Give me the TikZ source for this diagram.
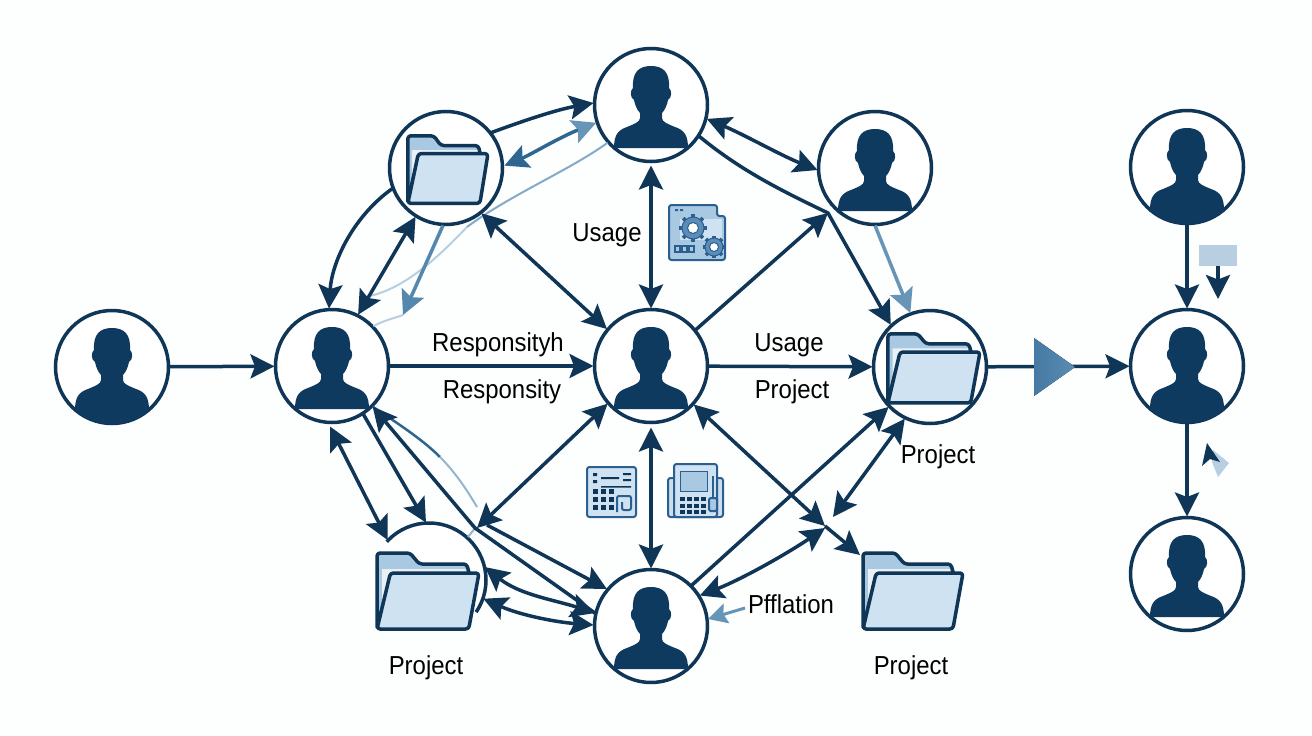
\documentclass[tikz,border=0pt]{standalone}
\usepackage{fontspec}
\setmainfont{Liberation Sans}
\usetikzlibrary{arrows.meta,calc}
\definecolor{ink}{HTML}{0F3557}
\definecolor{sil}{HTML}{0F3A60}
\definecolor{midb}{HTML}{2F6690}
\definecolor{softb}{HTML}{6695B8}
\definecolor{paleb}{HTML}{B8CFE1}
\definecolor{fback}{HTML}{A9C8E2}
\definecolor{ffront}{HTML}{CFE2F2}
\definecolor{iconl}{HTML}{2A5F8F}
\definecolor{gearb}{HTML}{5B8DB8}
\definecolor{triL}{HTML}{467AA3}
\definecolor{triR}{HTML}{5A8CB3}
\tikzset{
  x=1pt,y=-1pt,
  disc/.style={circle,draw=ink,fill=white,line width=3.5pt,minimum size=113pt,inner sep=0pt,outer sep=1pt},
  link/.style={draw=ink,line width=3.5pt},
  one/.style={link,-{Stealth[length=24pt,width=24pt,inset=4.5pt]}},
  both/.style={link,{Stealth[length=24pt,width=24pt,inset=4.5pt]}-{Stealth[length=24pt,width=24pt,inset=4.5pt]}},
  blueboth/.style={draw=midb,line width=3.5pt,{Stealth[length=24pt,width=24pt,inset=4.5pt,color=midb]}-{Stealth[length=24pt,width=24pt,inset=4.5pt,color=softb]}},
  lbl/.style={text=black,inner sep=0pt},
  fline/.style={draw=ink,line width=3.5pt,rounded corners=3pt,line join=round},
  iconbox/.style={draw=iconl,line width=2pt,rounded corners=2.5pt}
}
\newcommand{\tx}[1]{\fontsize{26}{28}\selectfont\scalebox{.92}[1]{#1}}
\newcommand{\headneck}{
  (-11,20) .. controls (-11,14) and (-11,10) .. (-11,8)
  .. controls (-14,5) and (-16,0) .. (-17,-5)
  .. controls (-21,-7) and (-21,-15) .. (-18,-17)
  .. controls (-19,-33) and (-12,-39) .. (0,-39)
  .. controls (12,-39) and (19,-33) .. (18,-17)
  .. controls (21,-15) and (21,-7) .. (17,-5)
  .. controls (16,0) and (14,5) .. (11,8)
  .. controls (11,10) and (11,14) .. (11,20)
}
\newcommand{\personflat}[1]{
  \fill[sil,shift={(#1)}] (-37,43) .. controls (-37,30) and (-33,25) .. (-24,22)
  .. controls (-17,19) and (-11,17) .. (-11,13) -- \headneck
  -- (11,13) .. controls (11,17) and (17,19) .. (24,22)
  .. controls (33,25) and (37,30) .. (37,43) -- cycle;
}
\newcommand{\personfull}[1]{
  \begin{scope}
  \clip (#1) circle[radius=57pt];
  \fill[sil,shift={(#1)}] (-37,70) -- (-37,43) .. controls (-37,30) and (-33,25) .. (-24,22)
  .. controls (-17,19) and (-11,17) .. (-11,13) -- \headneck
  -- (11,13) .. controls (11,17) and (17,19) .. (24,22)
  .. controls (33,25) and (37,30) .. (37,43) -- (37,70) -- cycle;
  \end{scope}
}
\newcommand{\folderpic}[4]{
  \begin{scope}[shift={(#1,#2)},xscale=#3,yscale=#4]
    \path[fline,fill=fback] (1,78) -- (1,2) -- (33,2) -- (42,13) -- (88,13) -- (91,24) -- (14,24) -- cycle;
    \fill[white,opacity=.75] (6,18) -- (87,18) -- (87,23) -- (14,23) -- (6,60) -- cycle;
    \path[fline,fill=ffront] (14,22) -- (100,22) -- (90,78) -- (1,78) -- cycle;
  \end{scope}
}
\newcommand{\gearpic}[3]{
  \foreach \a in {0,45,...,315}
    \draw[iconl,line width=3.6pt] ([shift={(\a:0.6*#3)}]#1,#2) -- ([shift={(\a:1.27*#3)}]#1,#2);
  \fill[gearb,draw=iconl,line width=1pt] (#1,#2) circle[radius=#3 pt];
  \fill[white,draw=iconl,line width=1pt] (#1,#2) circle[radius=0.5*#3 pt];
}
\begin{document}
\begin{tikzpicture}
\useasboundingbox (0,0) rectangle (1312,736);
\fill[white!97!ffront] (0,0) rectangle (1312,736);

% discs
\node[disc] (lft) at (112,367) {};
\node[disc] (pa)  at (332,366) {};
\node[disc] (ctr) at (651,366) {};
\node[disc] (top) at (651,105) {};
\node[disc] (fa)  at (446,168) {};
\node[disc] (tr)  at (875,168) {};
\node[disc] (fr)  at (930,367) {};
\node[disc] (bot) at (651,626) {};
\node[disc] (ra)  at (1187,167) {};
\node[disc] (rb)  at (1187,366) {};
\node[disc] (rc)  at (1187,574) {};
\node[circle,minimum size=113pt,inner sep=0pt,outer sep=1pt] (bl) at (429,580) {};
\begin{scope}
  \clip (429,580) -- (365,522) -- (365,490) -- (520,490) -- (520,642) -- cycle;
  \draw[ink,line width=3.5pt,fill=white] (429,580) circle[radius=57pt];
\end{scope}

% silhouettes
\personfull{lft}
\personflat{pa}
\personflat{ctr}
\personflat{top}
\personflat{tr}
\personflat{bot}
\personfull{ra}
\personfull{rb}
\personflat{rc}

% folders
\folderpic{407}{134}{0.81}{0.89}
\folderpic{887}{332}{0.93}{0.91}
\folderpic{376}{551}{1.03}{1.0}
\folderpic{862}{551}{1.01}{1.0}

% free-end coordinates
\coordinate (kn) at (828,213);
\coordinate (xa) at (477,528);
\coordinate (xd) at (475,528);
\coordinate (xe) at (487,525);
\coordinate (xm) at (825,526);
\coordinate (xb) at (825,528);
\coordinate (xc) at (833,517);
\coordinate (fh) at (403,315);
\coordinate (pf) at (745,608);
\coordinate (fb) at (860,555);
\coordinate (pale) at (365,297);
\coordinate (palm) at (467,227);
\coordinate (fda) at (440,457);
\coordinate (fdb) at (477,507);
\coordinate (fdc) at (476,527);
\coordinate (fdd) at (468,537);

% faded curves
\draw[paleb,line width=2pt] (palm) .. controls (440,255) and (405,290) .. (pale);
\draw[softb!80!white,line width=2pt] (top.-139) .. controls (570,170) and (510,195) .. (palm);
\draw[paleb,line width=2pt] (pa.44) .. controls (385,320) and (395,318) .. (fh);
\draw[midb,line width=2.5pt] (pa.-45) .. controls (405,428) and (425,442) .. (fda);
\draw[softb!70!white,line width=2pt] (fda) .. controls (455,472) and (467,490) .. (fdb);
\draw[softb!70!white,line width=2pt] (fdc) -- (fdd);

% straight connectors
\draw[one] (lft) -- (pa);
\draw[one] (pa) -- (ctr);
\draw[one] (ctr) -- (fr);
\draw[one] (fr) -- (rb);
\draw[one] (ra) -- (rb);
\draw[one] (rb) -- (rc);
\draw[both,shorten <=3pt] (top) -- (ctr);
\draw[both,shorten <=4pt] (ctr) -- (bot);

% upper left
\draw[one] (fa.38) .. controls (520,122) and (555,110) .. (top.178);
\draw[blueboth,shorten <=1pt] (fa.2) .. controls (530,155) and (560,137) .. (top.-162);
\draw[one] (fa.201) .. controls (355,215) and (332,260) .. (pa.93);
\draw[both] (pa.63) -- (fa.-122);
\draw[one,draw=softb!70!midb] (fa.-93) -- (fh);
\draw[both] (fa.-52) -- (ctr.140);

% upper right
\draw[both] (top.-14) .. controls (745,135) and (780,155) .. (tr.182);
\draw[one] (top.-33) .. controls (740,170) and (780,190) .. (kn) -- (fr.133);
\draw[one] (ctr.39) -- (kn);
\draw[one,draw=softb] (tr.-90) -- (fr.110);

% lower left
\draw[both] (pa.-92) ++(0,3) -- (bl.136);
\draw[one] (pa.-57) -- (bl.93);
\draw[one] (xe) -- (bot.140);
\draw[one] (bot.167) -- (xd) -- (pa.-45);
\draw[both] (ctr.-139) -- (xa);
\draw[both] (bl.13) .. controls (520,595) and (555,600) .. (bot.167);
\draw[both] (bl.-19) .. controls (520,615) and (555,622) .. (bot.179);

% lower right
\draw[both] (ctr.-42) -- (xm);
\draw[one] (xm) -- (fb);
\draw[one] (bot.45) -- (fr.-136);
\draw[both] (fr.-116) -- (xc);
\draw[both] (bot.32) .. controls (740,580) and (785,555) .. (xb);
\draw[-{Stealth[length=19pt,width=20pt,inset=3pt]},draw=softb,line width=3pt] (pf) -- (bot.7);

% triangle on the output line
\fill[left color=triL,right color=triR] (1034,338) -- (1075,367) -- (1034,396) -- cycle;

% little marker, top right column
\fill[paleb] (1199,245) rectangle (1237,266);
\coordinate (mka) at (1218,266);
\coordinate (mkb) at (1218,299);
\draw[one] (mka) -- (mkb);
% little marker, lower right column
\fill[paleb] (1213,450) -- (1229,463) -- (1218,477) -- (1212,462) -- cycle;
\fill[ink] (1207,443) -- (1220,462) -- (1210,459) -- (1202,466) -- cycle;

% gear icon
\draw[iconbox,fill=fback] (669,205) -- (717,205) -- (717,216) -- (725,216) -- (725,260) -- (669,260) -- cycle;
\fill[ffront] (680,219) rectangle (722,240);
\fill[iconl] (675,209) rectangle (678,211) (680,209) rectangle (683,211);
\foreach \q in {675,682,689} \draw[iconl,line width=1.5pt] (\q,246) rectangle ++(5,6);
\gearpic{693}{228}{11}
\gearpic{714}{247}{9}

% keypad icon 1
\draw[iconbox,fill=ffront] (587,467) rectangle (636,517);
\foreach \q in {593,601,609} \foreach \r in {489,497,505} \fill[ink] (\q,\r) rectangle ++(5,5);
\fill[ink] (593,473) rectangle ++(4,3) (593,480) rectangle ++(4,3) (601,477) rectangle ++(18,2) (623,473) rectangle ++(8,2) (623,479) rectangle ++(8,2) (601,486) rectangle ++(30,1.5);
\draw[iconl,line width=2pt,rounded corners=2pt] (617,512) -- (617,496) -- (631,496) -- (631,510) -- (622,510) -- (622,502);

% keypad icon 2
\draw[iconbox,fill=fback!60!white] (668,478) rectangle (723,517);
\draw[iconbox,fill=ffront] (674,464) rectangle (717,517);
\fill[fback,draw=iconl,line width=1pt] (680,471) rectangle (707,491);
\foreach \q in {680,687,694,701} \foreach \r in {497,504,510} \fill[ink] (\q,\r) rectangle ++(4.5,4);
\draw[iconl,line width=2pt,fill=fback,rounded corners=1.5pt] (709,498) rectangle (717,511);
\draw[iconl,line width=2pt] (713,498) -- (713,476);

% labels
\node[lbl] (t1) at (498,345) {\tx{Responsityh}};
\node[lbl] (t2) at (502,392) {\tx{Responsity}};
\node[lbl] (t3) at (607,235) {\tx{Usage}};
\node[lbl] (t4) at (789,345) {\tx{Usage}};
\node[lbl] (t5) at (792,392) {\tx{Project}};
\node[lbl] (t6) at (938,457) {\tx{Project}};
\node[lbl] (t7) at (791,604) {\tx{Pfflation}};
\node[lbl] (t8) at (426,668) {\tx{Project}};
\node[lbl] (t9) at (911,668) {\tx{Project}};
\end{tikzpicture}
\end{document}
